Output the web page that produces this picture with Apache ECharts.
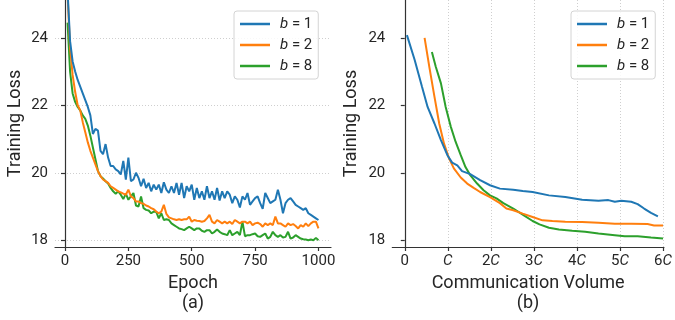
<!DOCTYPE html>
<html>
<head>
<meta charset="utf-8">
<script src="https://cdn.jsdelivr.net/npm/echarts@6/dist/echarts.min.js"></script>
<style>
html,body{margin:0;padding:0;background:#fff;}
#chart{width:675px;height:320px;}
</style>
</head>
<body>
<div id="chart"></div>
<script>
// ---- Data ----
const seriesNames = ['b = 1', 'b = 2', 'b = 8'];
const epochs = [10,20,30,40,50,60,70,80,90,100,110,120,130,140,150,160,170,180,190,200,210,220,230,240,250,260,270,280,290,300,310,320,330,340,350,360,370,380,390,400,410,420,430,440,450,460,470,480,490,500,510,520,530,540,550,560,570,580,590,600,610,620,630,640,650,660,670,680,690,700,710,720,730,740,750,760,770,780,790,800,810,820,830,840,850,860,870,880,890,900,910,920,930,940,950,960,970,980,990,1000];
const lossB1 = [25.4,23.9,23.3,23.0,22.75,22.55,22.35,22.15,21.95,21.7,21.15,21.3,21.25,20.65,20.55,20.85,20.45,20.2,20.2,20.1,20.05,19.95,20.35,19.8,20.45,19.75,19.8,20.0,19.85,19.6,19.82,19.55,19.7,19.45,19.65,19.5,19.65,19.4,19.72,19.5,19.4,19.6,19.4,19.7,19.35,19.7,19.25,19.6,19.45,19.65,19.2,19.55,19.25,19.45,19.2,19.6,19.25,19.45,19.2,19.55,19.18,19.45,19.25,19.45,19.35,19.1,19.3,19.2,18.97,19.3,19.2,19.4,19.05,19.15,19.25,19.3,19.1,18.93,19.4,19.25,19.1,19.15,19.2,19.5,19.2,18.8,19.1,19.2,19.25,19.15,19.05,19.0,18.95,18.9,18.95,18.8,18.75,18.7,18.65,18.6];
const lossB2 = [25.3,23.7,22.9,22.4,22.0,21.85,21.5,21.2,20.9,20.65,20.45,20.25,20.05,19.9,19.8,19.75,19.7,19.6,19.55,19.5,19.45,19.42,19.38,19.35,19.5,19.3,19.25,19.15,19.15,19.1,19.08,19.03,19.0,18.95,18.92,18.85,18.8,18.85,19.05,18.78,18.68,18.65,18.62,18.6,18.62,18.6,18.62,18.62,18.7,18.55,18.6,18.58,18.57,18.55,18.57,18.65,18.75,18.55,18.5,18.6,18.55,18.5,18.55,18.5,18.55,18.48,18.6,18.55,18.5,18.55,18.55,18.5,18.55,18.45,18.5,18.52,18.48,18.4,18.5,18.45,18.5,18.45,18.7,18.5,18.5,18.45,18.4,18.5,18.45,18.48,18.42,18.35,18.45,18.4,18.5,18.42,18.5,18.55,18.55,18.35];
const lossB8 = [24.45,23.0,22.35,22.1,21.95,21.85,21.7,21.6,21.4,21.1,20.75,20.4,20.05,19.9,19.83,19.75,19.68,19.55,19.45,19.38,19.45,19.35,19.22,19.38,19.2,19.3,19.4,19.03,19.0,19.3,18.95,18.9,18.88,18.8,18.85,18.84,18.65,18.8,18.6,18.62,18.6,18.5,18.45,18.4,18.35,18.33,18.3,18.35,18.4,18.35,18.3,18.35,18.35,18.28,18.25,18.3,18.3,18.2,18.25,18.32,18.25,18.2,18.18,18.15,18.3,18.15,18.2,18.25,18.15,18.55,18.12,18.15,18.15,18.18,18.2,18.12,18.1,18.15,18.2,18.05,18.1,18.25,18.15,18.1,18.15,18.08,18.1,18.25,18.05,18.08,18.15,18.1,18.05,18.03,18.02,18.0,18.02,18.0,18.07,18.0];

// Communication volume (in units of C) vs training loss
const volB1 = [0.05,0.23,0.40,0.53,0.69,0.84,0.99,1.10,1.22,1.33,1.52,1.75,1.98,2.21,2.52,2.74,2.97,3.35,3.73,4.12,4.50,4.73,4.88,5.03,5.26,5.41,5.56,5.72,5.88];
const commB1 = [24.08,23.34,22.55,21.95,21.46,20.97,20.52,20.30,20.22,20.05,19.96,19.78,19.63,19.53,19.50,19.46,19.43,19.33,19.28,19.20,19.17,19.19,19.14,19.17,19.14,19.07,18.94,18.81,18.71];
const volB2 = [0.46,0.57,0.69,0.80,0.91,1.03,1.14,1.30,1.45,1.60,1.75,1.98,2.21,2.36,2.52,2.74,2.97,3.20,3.43,3.73,4.12,4.50,4.88,5.26,5.64,5.79,6.00];
const commB2 = [24.0,23.14,22.25,21.46,20.87,20.42,20.13,19.86,19.68,19.55,19.43,19.28,19.10,18.94,18.89,18.79,18.69,18.59,18.57,18.55,18.54,18.52,18.49,18.49,18.48,18.44,18.44];
const volB8 = [0.63,0.72,0.84,0.95,1.07,1.18,1.30,1.41,1.52,1.68,1.83,1.98,2.13,2.29,2.52,2.74,2.97,3.13,3.35,3.58,3.89,4.19,4.50,4.88,5.11,5.41,5.72,6.00];
const commB8 = [23.58,23.14,22.65,21.95,21.36,20.92,20.52,20.17,19.93,19.68,19.48,19.33,19.24,19.10,18.94,18.76,18.57,18.47,18.37,18.32,18.28,18.25,18.20,18.15,18.12,18.12,18.08,18.05];

const epochTicks = [0,250,500,750,1000];
const lossTicks = [18,20,22,24];
const volTicks = [0,1,2,3,4,5,6];
const subLabels = ['(a)','(b)'];
const xNames = ['Epoch','Communication Volume'];
const yName = 'Training Loss';

// ---- Styling ----
const colors = ['#1f77b4','#ff7f0e','#2ca02c'];
const FONT = 'Roboto';
const TXT = '#262626';
const SPINE = '#333333';

function zip(xs, ys){ return xs.map((x,i)=>[x, ys[i]]); }

function volLabel(v){
  if (v === 0) return '0';
  if (v === 1) return '{i|C}';
  return v + '{i|C}';
}
function plainLabel(v){ return String(v); }

const axisLine = {show:true, lineStyle:{color:SPINE, width:1.2}};
const axisTick = (vals)=>({show:true, length:4, inside:false, customValues:vals, lineStyle:{color:SPINE, width:1.2}});
const gridLine = {show:true, lineStyle:{color:'#cfcfcf', width:1, type:[1,2]}};

const legendCommon = {
  orient:'vertical',
  top: 11,
  icon: 'rect',
  itemWidth: 30,
  itemHeight: 2.5,
  itemGap: 5,
  padding: [5,6,5,6],
  borderColor: '#d4d4d4',
  borderWidth: 1,
  borderRadius: 3,
  backgroundColor: 'rgba(255,255,255,0.85)',
  data: seriesNames,
  formatter: function(name){ return '{i|b}{n| = ' + name.split('= ')[1] + '}'; },
  textStyle: {
    color: TXT, fontFamily: FONT, fontSize: 15, lineHeight: 16, padding:[0,0,0,5],
    rich: {
      i: {fontStyle:'italic', fontFamily: FONT, fontSize: 15, color: TXT},
      n: {fontFamily: FONT, fontSize: 15, color: TXT}
    }
  }
};

const option = {
  animation: false,
  backgroundColor: '#ffffff',
  textStyle: {fontFamily: FONT},
  grid: [
    {left: 55, top: 0, width: 276, height: 247, containLabel: false},
    {left: 392.3, top: 0, width: 275.7, height: 247, containLabel: false}
  ],
  legend: [
    Object.assign({}, legendCommon, {left: 234}),
    Object.assign({}, legendCommon, {left: 571})
  ],
  xAxis: [
    {
      type:'value', gridIndex:0, min:-39.5, max:1049.5,
      name: xNames[0] + '\n{sub|' + subLabels[0] + '}', nameLocation:'middle', nameGap: 26,
      nameTextStyle:{color:TXT, fontFamily:FONT, fontSize:18, lineHeight:20,
        rich:{sub:{color:TXT, fontFamily:FONT, fontSize:18, lineHeight:20}}},
      axisLine: axisLine, axisTick: axisTick(epochTicks),
      axisLabel:{customValues: epochTicks, formatter: plainLabel, color:TXT, fontFamily:FONT, fontSize:15, margin:7},
      splitLine:{show:false}
    },
    {
      type:'value', gridIndex:1, min:-0.29, max:6.02,
      name: xNames[1] + '\n{sub|' + subLabels[1] + '}', nameLocation:'middle', nameGap: 26,
      nameTextStyle:{color:TXT, fontFamily:FONT, fontSize:18, lineHeight:20,
        rich:{sub:{color:TXT, fontFamily:FONT, fontSize:18, lineHeight:20}}},
      axisLine: axisLine, axisTick: axisTick(volTicks),
      axisLabel:{customValues: volTicks, color:TXT, fontFamily:FONT, fontSize:15, margin:7,
        formatter: volLabel,
        rich:{i:{fontStyle:'italic', fontFamily:FONT, fontSize:15, color:TXT}}},
      splitLine: gridLine
    }
  ],
  yAxis: [
    {
      type:'value', gridIndex:0, min:17.8, max:25.12,
      name: yName, nameLocation:'middle', nameGap: 31,
      nameTextStyle:{color:TXT, fontFamily:FONT, fontSize:18},
      axisLine: axisLine, axisTick: axisTick(lossTicks),
      axisLabel:{customValues: lossTicks, formatter: plainLabel, color:TXT, fontFamily:FONT, fontSize:15, margin:7},
      splitLine: gridLine
    },
    {
      type:'value', gridIndex:1, min:17.8, max:25.12,
      name: yName, nameLocation:'middle', nameGap: 32,
      nameTextStyle:{color:TXT, fontFamily:FONT, fontSize:18},
      axisLine: axisLine, axisTick: axisTick(lossTicks),
      axisLabel:{customValues: lossTicks, formatter: plainLabel, color:TXT, fontFamily:FONT, fontSize:15, margin:7},
      splitLine:{show:false}
    }
  ],
  series: []
};

const leftData = [lossB1, lossB2, lossB8];
const rightX = [volB1, volB2, volB8];
const rightY = [commB1, commB2, commB8];
for (let k = 0; k < 3; k++) {
  option.series.push({
    name: seriesNames[k], type:'line', xAxisIndex:0, yAxisIndex:0,
    data: zip(epochs, leftData[k]), showSymbol:false, symbol:'none', clip:true,
    lineStyle:{color:colors[k], width:2}, itemStyle:{color:colors[k]}, z: 3 - k
  });
}
for (let k = 0; k < 3; k++) {
  option.series.push({
    name: seriesNames[k], type:'line', xAxisIndex:1, yAxisIndex:1,
    data: zip(rightX[k], rightY[k]), showSymbol:false, symbol:'none', clip:true,
    lineStyle:{color:colors[k], width:2}, itemStyle:{color:colors[k]}, z: 3 - k
  });
}

const chart = echarts.init(document.getElementById('chart'), null, {renderer:'canvas'});
chart.setOption(option);
</script>
</body>
</html>
